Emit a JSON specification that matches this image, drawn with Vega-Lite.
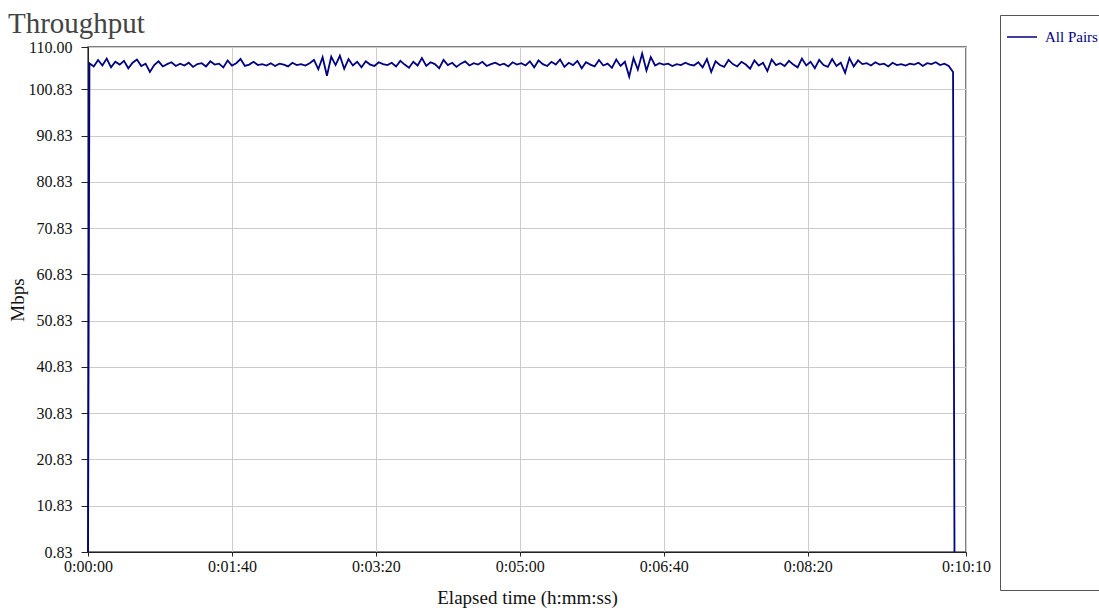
{
  "$schema": "https://vega.github.io/schema/vega-lite/v6.json",
  "width": 878,
  "height": 505,
  "autosize": {"type": "none"},
  "padding": {"left": 88, "top": 47, "right": 133, "bottom": 63},
  "background": "white",
  "config": {
    "font": "Liberation Serif",
    "view": {"stroke": "#555", "strokeWidth": 1.5},
    "axis": {"labelFont": "Liberation Serif", "titleFont": "Liberation Serif", "labelColor": "#111", "titleColor": "#111", "gridColor": "#cccccc", "domainColor": "#222", "tickColor": "#222", "labelFontSize": 16, "titleFontSize": 19, "titleFontWeight": "normal"}
  },
  "title": {"text": "Throughput", "anchor": "start", "frame": "bounds", "font": "Liberation Serif", "fontSize": 29, "fontWeight": "normal", "color": "#444", "offset": 8, "dy": 32, "dx": 0},
  "data": {"values": [
    {"t":0,"v":0.83},
    {"t":1,"v":106.5},{"t":4,"v":105.8},{"t":7,"v":107.2},{"t":10,"v":106.0},{"t":13,"v":107.5},{"t":16,"v":105.6},{"t":19,"v":106.8},{"t":22,"v":106.2},{"t":25,"v":107.0},{"t":28,"v":105.4},
    {"t":31,"v":106.6},{"t":34,"v":107.3},{"t":37,"v":105.9},{"t":40,"v":106.4},{"t":43,"v":104.6},{"t":46,"v":106.1},{"t":49,"v":106.9},{"t":52,"v":105.8},{"t":55,"v":106.3},{"t":58,"v":106.7},
    {"t":61,"v":105.9},{"t":64,"v":106.4},{"t":67,"v":106.0},{"t":70,"v":106.6},{"t":73,"v":105.7},{"t":76,"v":106.3},{"t":79,"v":106.5},{"t":82,"v":105.8},{"t":85,"v":106.9},{"t":88,"v":106.2},
    {"t":91,"v":106.4},{"t":94,"v":105.6},{"t":97,"v":107.1},{"t":100,"v":106.0},{"t":103,"v":106.5},{"t":106,"v":107.4},{"t":109,"v":105.9},{"t":112,"v":106.2},{"t":115,"v":106.8},{"t":118,"v":106.1},
    {"t":121,"v":106.3},{"t":124,"v":106.0},{"t":127,"v":106.5},{"t":130,"v":105.9},{"t":133,"v":106.4},{"t":136,"v":106.2},{"t":139,"v":105.8},{"t":142,"v":106.6},{"t":145,"v":106.1},{"t":148,"v":106.3},
    {"t":151,"v":106.0},{"t":154,"v":106.5},{"t":157,"v":107.2},{"t":160,"v":105.2},{"t":163,"v":107.8},{"t":166,"v":103.8},{"t":169,"v":107.9},{"t":172,"v":106.1},{"t":175,"v":108.1},{"t":178,"v":105.3},
    {"t":181,"v":107.4},{"t":184,"v":106.0},{"t":187,"v":106.8},{"t":190,"v":105.6},{"t":193,"v":106.9},{"t":196,"v":106.2},{"t":199,"v":105.9},{"t":202,"v":106.7},{"t":205,"v":106.3},{"t":208,"v":106.1},
    {"t":211,"v":106.6},{"t":214,"v":105.8},{"t":217,"v":107.0},{"t":220,"v":106.2},{"t":223,"v":105.5},{"t":226,"v":106.8},{"t":229,"v":106.0},{"t":232,"v":107.6},{"t":235,"v":105.9},{"t":238,"v":106.7},
    {"t":241,"v":106.3},{"t":244,"v":105.4},{"t":247,"v":107.2},{"t":250,"v":106.1},{"t":253,"v":106.6},{"t":256,"v":105.7},{"t":259,"v":106.4},{"t":262,"v":106.9},{"t":265,"v":106.0},{"t":268,"v":106.5},
    {"t":271,"v":106.2},{"t":274,"v":106.8},{"t":277,"v":105.9},{"t":280,"v":106.3},{"t":283,"v":106.6},{"t":286,"v":106.1},{"t":289,"v":106.4},{"t":292,"v":105.8},{"t":295,"v":106.7},{"t":298,"v":106.2},
    {"t":301,"v":106.5},{"t":304,"v":106.0},{"t":307,"v":106.9},{"t":310,"v":105.6},{"t":313,"v":107.1},{"t":316,"v":106.3},{"t":319,"v":105.9},{"t":322,"v":106.8},{"t":325,"v":106.2},{"t":328,"v":107.3},
    {"t":331,"v":105.7},{"t":334,"v":106.6},{"t":337,"v":106.1},{"t":340,"v":107.0},{"t":343,"v":105.4},{"t":346,"v":106.7},{"t":349,"v":106.2},{"t":352,"v":105.8},{"t":355,"v":107.2},{"t":358,"v":106.0},
    {"t":361,"v":106.4},{"t":364,"v":105.5},{"t":367,"v":107.3},{"t":370,"v":105.9},{"t":373,"v":106.8},{"t":376,"v":103.6},{"t":379,"v":107.6},{"t":382,"v":105.1},{"t":385,"v":108.6},{"t":388,"v":104.9},
    {"t":391,"v":107.8},{"t":394,"v":106.0},{"t":397,"v":106.5},{"t":400,"v":106.2},{"t":403,"v":106.4},{"t":406,"v":105.9},{"t":409,"v":106.3},{"t":412,"v":106.1},{"t":415,"v":106.6},{"t":418,"v":106.2},
    {"t":421,"v":106.0},{"t":424,"v":106.7},{"t":427,"v":105.6},{"t":430,"v":107.4},{"t":433,"v":104.6},{"t":436,"v":106.9},{"t":439,"v":106.1},{"t":442,"v":105.7},{"t":445,"v":107.2},{"t":448,"v":106.3},
    {"t":451,"v":105.8},{"t":454,"v":106.8},{"t":457,"v":106.2},{"t":460,"v":105.3},{"t":463,"v":107.1},{"t":466,"v":106.0},{"t":469,"v":106.6},{"t":472,"v":104.8},{"t":475,"v":107.3},{"t":478,"v":106.1},
    {"t":481,"v":106.5},{"t":484,"v":105.9},{"t":487,"v":107.0},{"t":490,"v":106.2},{"t":493,"v":105.6},{"t":496,"v":107.5},{"t":499,"v":106.0},{"t":502,"v":106.8},{"t":505,"v":105.4},{"t":508,"v":107.2},
    {"t":511,"v":106.1},{"t":514,"v":105.7},{"t":517,"v":107.4},{"t":520,"v":105.9},{"t":523,"v":106.6},{"t":526,"v":104.4},{"t":529,"v":107.6},{"t":532,"v":105.8},{"t":535,"v":107.1},{"t":538,"v":106.3},
    {"t":541,"v":106.5},{"t":544,"v":106.0},{"t":547,"v":106.7},{"t":550,"v":106.2},{"t":553,"v":106.4},{"t":556,"v":105.8},{"t":559,"v":106.6},{"t":562,"v":106.1},{"t":565,"v":106.3},{"t":568,"v":106.0},
    {"t":571,"v":106.4},{"t":574,"v":106.2},{"t":577,"v":106.6},{"t":580,"v":105.9},{"t":583,"v":106.5},{"t":586,"v":106.3},{"t":589,"v":106.7},{"t":592,"v":106.1},{"t":595,"v":106.4},{"t":598,"v":105.9},
    {"t":601,"v":104.6},{"t":602,"v":0.83}
  ]},
  "mark": {"type": "line", "strokeWidth": 1.8, "interpolate": "linear"},
  "encoding": {
    "x": {
      "field": "t", "type": "quantitative",
      "scale": {"domain": [0, 610], "nice": false, "zero": false},
      "axis": {
        "title": "Elapsed time (h:mm:ss)",
        "values": [0, 100, 200, 300, 400, 500, 610],
        "labelExpr": "'0:' + (floor(datum.value/60) < 10 ? '0' : '') + floor(datum.value/60) + ':' + (datum.value % 60 < 10 ? '0' : '') + (datum.value % 60)",
        "tickSize": 4, "labelPadding": 2, "titlePadding": 14, "labelFlush": false, "labelOverlap": false
      }
    },
    "y": {
      "field": "v", "type": "quantitative",
      "scale": {"domain": [0.83, 110], "nice": false, "zero": false},
      "axis": {
        "title": "Mbps",
        "values": [0.83, 10.83, 20.83, 30.83, 40.83, 50.83, 60.83, 70.83, 80.83, 90.83, 100.83, 110],
        "format": ".2f",
        "tickSize": 7, "labelPadding": 9, "titlePadding": 1, "labelFlush": false, "labelOverlap": false
      }
    },
    "color": {
      "datum": "All Pairs", "type": "nominal",
      "scale": {"range": ["#000080"]},
      "legend": {
        "orient": "none", "legendX": 912, "legendY": -32,
        "direction": "vertical",
        "symbolType": "stroke", "symbolSize": 900, "symbolStrokeWidth": 1.5,
        "labelFont": "Liberation Serif", "labelFontSize": 15, "labelColor": "#000080", "labelOffset": 7,
        "fillColor": "white", "strokeColor": "#555", "padding": 6,
        "title": [" ", " "], "titleOrient": "bottom", "titleLineHeight": 524, "titleFontSize": 10, "titlePadding": 5
      }
    }
  }
}
